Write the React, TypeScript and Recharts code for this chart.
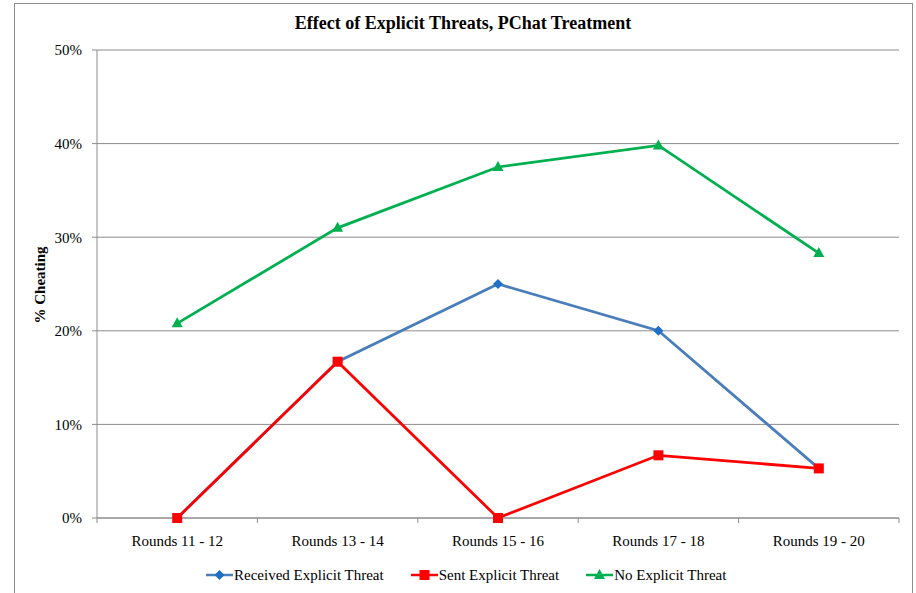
import { LineChart, Line, CartesianGrid, XAxis, YAxis } from 'recharts';

const rounds = ['Rounds 11 - 12', 'Rounds 13 - 14', 'Rounds 15 - 16', 'Rounds 17 - 18', 'Rounds 19 - 20'];
const received = [0, 16.7, 25, 20, 5.3];
const sent = [0, 16.7, 0, 6.7, 5.3];
const noThreat = [20.8, 31, 37.5, 39.8, 28.3];
const yTicks = [0, 10, 20, 30, 40, 50];

const data = rounds.map((round, i) => ({
  round,
  received: received[i],
  sent: sent[i],
  noThreat: noThreat[i],
}));

const W = 916;
const H = 593;
const margin = { top: 50, right: 17, bottom: 74, left: 0 };
const yAxisWidth = 97;
const band = (W - margin.left - margin.right - yAxisWidth) / rounds.length;

const font = '"Liberation Serif", "Times New Roman", serif';
const gray = '#8c8c8c';

const BLUE_LINE = '#4a7ebb';
const BLUE_DOT = '#1f6fc6';
const RED = '#ff0000';
const GREEN = '#00b050';

const Diamond = ({ cx, cy, fill }: { cx: number; cy: number; fill: string }) => (
  <polygon points={`${cx},${cy - 5} ${cx + 5},${cy} ${cx},${cy + 5} ${cx - 5},${cy}`} fill={fill} />
);
const Square = ({ cx, cy, fill }: { cx: number; cy: number; fill: string }) => (
  <rect x={cx - 5} y={cy - 5} width={10} height={10} fill={fill} />
);
const Triangle = ({ cx, cy, fill }: { cx: number; cy: number; fill: string }) => (
  <polygon points={`${cx},${cy - 6} ${cx + 5.5},${cy + 4} ${cx - 5.5},${cy + 4}`} fill={fill} />
);

function RoundTick(props: any) {
  const { x, y, payload, index } = props;
  const last = index === rounds.length - 1;
  return (
    <g>
      <line x1={x - band / 2} x2={x - band / 2} y1={y} y2={y + 5} stroke={gray} />
      {last && <line x1={x + band / 2} x2={x + band / 2} y1={y} y2={y + 5} stroke={gray} />}
      <text x={x} y={y + 28} textAnchor="middle" fontSize={15} fontFamily={font} fill="#000">
        {payload.value}
      </text>
    </g>
  );
}

const legendItems = [
  { name: 'Received Explicit Threat', line: BLUE_LINE, mark: BLUE_DOT, Shape: Diamond },
  { name: 'Sent Explicit Threat', line: RED, mark: RED, Shape: Square },
  { name: 'No Explicit Threat', line: GREEN, mark: GREEN, Shape: Triangle },
];

export default function App() {
  return (
    <div style={{ position: 'absolute', left: 0, top: 0, width: W, height: H, overflow: 'hidden', background: '#fff', fontFamily: font }}>
      <div style={{ position: 'absolute', left: 14, top: 3, width: 897, height: 620, border: `1px solid ${gray}` }} />
      <div style={{ position: 'absolute', left: 5, top: 14, width: W, textAlign: 'center', fontSize: 18, lineHeight: '18px', fontWeight: 'bold' }}>
        Effect of Explicit Threats, PChat Treatment
      </div>
      <div
        style={{
          position: 'absolute',
          left: 40,
          top: 285,
          transform: 'translate(-50%, -50%) rotate(-90deg)',
          fontSize: 15,
          fontWeight: 'bold',
          whiteSpace: 'nowrap',
        }}
      >
        % Cheating
      </div>
      <div style={{ position: 'absolute', left: 0, top: 0 }}>
        <LineChart width={W} height={H} data={data} margin={margin}>
          <CartesianGrid vertical={false} stroke={gray} strokeWidth={1} />
          <XAxis
            dataKey="round"
            scale="band"
            height={1}
            axisLine={{ stroke: gray }}
            tickLine={false}
            tickSize={0}
            tickMargin={0}
            interval={0}
            tick={<RoundTick />}
          />
          <YAxis
            width={yAxisWidth}
            domain={[0, 50]}
            ticks={yTicks}
            tickFormatter={(v) => `${v}%`}
            axisLine={{ stroke: gray }}
            tickLine={{ stroke: gray }}
            tickSize={5}
            tickMargin={10}
            tick={{ fontSize: 15, fontFamily: font, fill: '#000' }}
          />
          <Line
            type="linear"
            dataKey="received"
            stroke={BLUE_LINE}
            strokeWidth={2.75}
            isAnimationActive={false}
            dot={(p: any) => <Diamond key={`r${p.index}`} cx={p.cx} cy={p.cy} fill={BLUE_DOT} />}
          />
          <Line
            type="linear"
            dataKey="sent"
            stroke={RED}
            strokeWidth={2.75}
            isAnimationActive={false}
            dot={(p: any) => <Square key={`s${p.index}`} cx={p.cx} cy={p.cy} fill={RED} />}
          />
          <Line
            type="linear"
            dataKey="noThreat"
            stroke={GREEN}
            strokeWidth={2.75}
            isAnimationActive={false}
            dot={(p: any) => <Triangle key={`n${p.index}`} cx={p.cx} cy={p.cy} fill={GREEN} />}
          />
        </LineChart>
      </div>
      <div style={{ position: 'absolute', left: 206, top: 566, display: 'flex', gap: 27, fontSize: 15, lineHeight: '18px' }}>
        {legendItems.map(({ name, line, mark, Shape }) => (
          <div key={name} style={{ display: 'flex', alignItems: 'center' }}>
            <svg width={27} height={14}>
              <line x1={0} x2={27} y1={7} y2={7} stroke={line} strokeWidth={2.5} />
              <Shape cx={13.5} cy={7} fill={mark} />
            </svg>
            <span style={{ marginLeft: 1 }}>{name}</span>
          </div>
        ))}
      </div>
    </div>
  );
}
